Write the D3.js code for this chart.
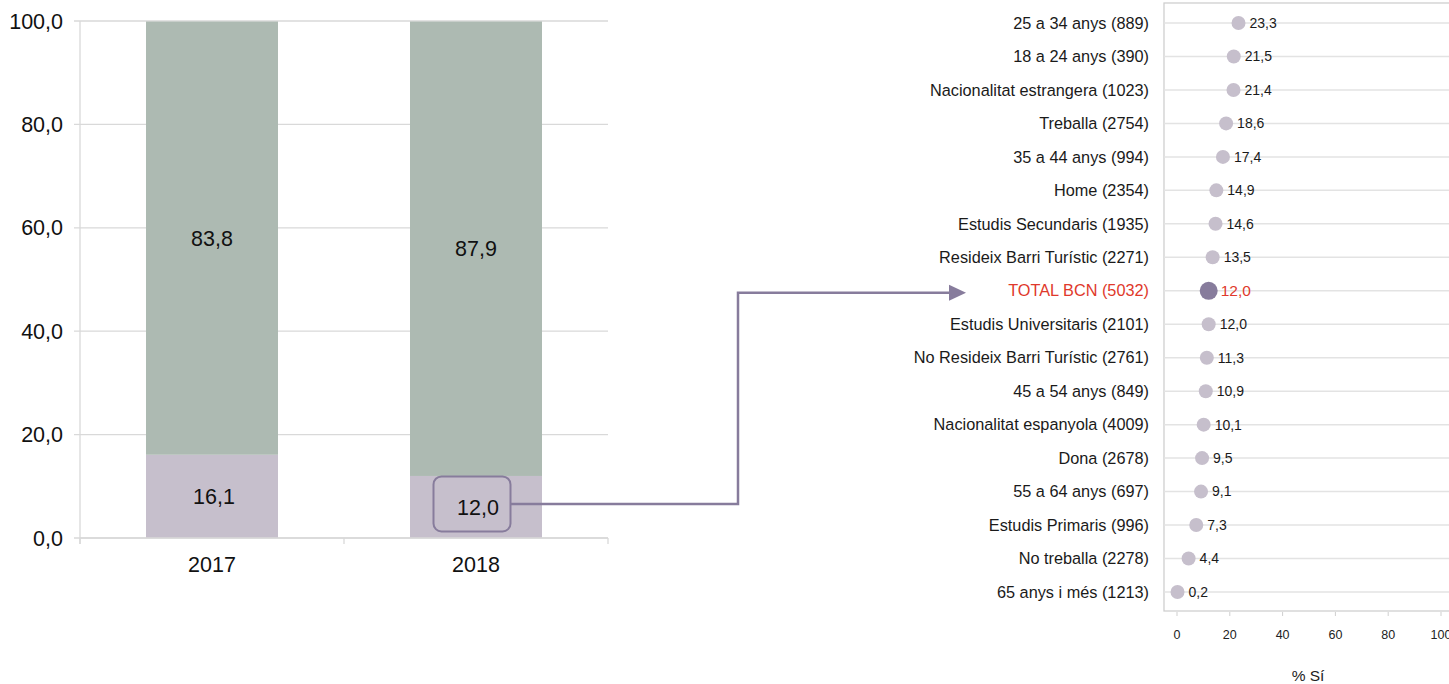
<!DOCTYPE html>
<html>
<head>
<meta charset="utf-8">
<script src="https://cdn.jsdelivr.net/npm/d3@7"></script>
<style>
  body { margin: 0; background: #fff; }
  svg { display: block; font-family: "Liberation Sans", Arial, sans-serif; }
</style>
</head>
<body>
<svg id="chart" width="1449" height="684"></svg>
<script>
// data - left stacked bars
const years = ["2017", "2018"];
const siValues = [16.1, 12.0];
const noValues = [83.8, 87.9];
const yTicks = [0, 20, 40, 60, 80, 100];

// data - right dot plot
const groups = [
  "25 a 34 anys (889)", "18 a 24 anys (390)", "Nacionalitat estrangera (1023)",
  "Treballa (2754)", "35 a 44 anys (994)", "Home (2354)", "Estudis Secundaris (1935)",
  "Resideix Barri Turístic (2271)", "TOTAL BCN (5032)", "Estudis Universitaris (2101)",
  "No Resideix Barri Turístic (2761)", "45 a 54 anys (849)", "Nacionalitat espanyola (4009)",
  "Dona (2678)", "55 a 64 anys (697)", "Estudis Primaris (996)", "No treballa (2278)",
  "65 anys i més (1213)"
];
const groupValues = [23.3, 21.5, 21.4, 18.6, 17.4, 14.9, 14.6, 13.5, 12.0, 12.0,
  11.3, 10.9, 10.1, 9.5, 9.1, 7.3, 4.4, 0.2];
const xTicks = [0, 20, 40, 60, 80, 100];
const totalLabel = "TOTAL BCN (5032)";

const fmt = function (v) { return d3.format(".1f")(v).replace(".", ","); };
const svg = d3.select("#chart");

const green = "#adbab2", lilac = "#c6bfcc", purple = "#877c9c", grid = "#d9d9d9";

// ---- left chart
const x = d3.scaleBand().domain(years).range([80, 608]).paddingInner(0.5).paddingOuter(0.25);
const y = d3.scaleLinear().domain([0, 100]).range([538, 21]);

const left = svg.append("g");

left.selectAll(".grid").data(yTicks).enter().append("line")
  .attr("x1", 74).attr("x2", 608)
  .attr("y1", function (d) { return y(d); }).attr("y2", function (d) { return y(d); })
  .attr("stroke", grid).attr("stroke-width", 1.3);

left.selectAll(".ylab").data(yTicks).enter().append("text")
  .attr("x", 63).attr("y", function (d) { return y(d); })
  .attr("dy", "0.35em").attr("text-anchor", "end")
  .attr("font-size", 21.5).attr("fill", "#111")
  .text(fmt);

// bars
left.selectAll(".si").data(years).enter().append("rect")
  .attr("x", function (d) { return x(d); })
  .attr("width", x.bandwidth())
  .attr("y", function (d, i) { return y(siValues[i]); })
  .attr("height", function (d, i) { return y(0) - y(siValues[i]); })
  .attr("fill", lilac);

left.selectAll(".no").data(years).enter().append("rect")
  .attr("x", function (d) { return x(d); })
  .attr("width", x.bandwidth())
  .attr("y", function (d, i) { return y(siValues[i] + noValues[i]); })
  .attr("height", function (d, i) { return y(siValues[i]) - y(siValues[i] + noValues[i]); })
  .attr("fill", green);

// axes lines
left.append("line").attr("x1", 80).attr("x2", 80).attr("y1", y(100)).attr("y2", y(0) + 6)
  .attr("stroke", grid).attr("stroke-width", 1.3);
left.append("line").attr("x1", 80).attr("x2", 608).attr("y1", y(0)).attr("y2", y(0))
  .attr("stroke", grid).attr("stroke-width", 1.5);
const bounds = [x.range()[0], x("2018") - x.step() * x.paddingInner() / 2, x.range()[1]];
left.selectAll(".xt").data(bounds).enter().append("line")
  .attr("x1", function (d) { return d; }).attr("x2", function (d) { return d; })
  .attr("y1", y(0)).attr("y2", y(0) + 6)
  .attr("stroke", grid).attr("stroke-width", 1.3);

left.selectAll(".xlab").data(years).enter().append("text")
  .attr("x", function (d) { return x(d) + x.bandwidth() / 2; })
  .attr("y", 564).attr("dy", "0.35em").attr("text-anchor", "middle")
  .attr("font-size", 21.5).attr("fill", "#111").text(function (d) { return d; });

// bar value labels
left.selectAll(".nolab").data(years).enter().append("text")
  .attr("x", function (d) { return x(d) + x.bandwidth() / 2; })
  .attr("y", function (d, i) { return y(siValues[i] + noValues[i] / 2); })
  .attr("dy", "0.35em").attr("text-anchor", "middle")
  .attr("font-size", 21.5).attr("fill", "#111")
  .text(function (d, i) { return fmt(noValues[i]); });

left.selectAll(".silab").data(years).enter().append("text")
  .attr("x", function (d) { return x(d) + x.bandwidth() / 2 + 2; })
  .attr("y", function (d, i) { return y(siValues[i] / 2); })
  .attr("dy", "0.35em").attr("text-anchor", "middle")
  .attr("font-size", 21.5).attr("fill", "#111")
  .text(function (d, i) { return fmt(siValues[i]); });

// ---- right chart
const rx = d3.scaleLinear().domain([0, 100]).range([1177, 1441]);
const ry = d3.scalePoint().domain(groups).range([23, 592]);

const right = svg.append("g");

right.append("rect").attr("x", 1164).attr("y", 3).attr("width", 300).attr("height", 608)
  .attr("fill", "none").attr("stroke", "#cfcfcf").attr("stroke-width", 1.3);

right.selectAll(".rg").data(groups).enter().append("line")
  .attr("x1", 1164).attr("x2", 1449)
  .attr("y1", function (d) { return ry(d); }).attr("y2", function (d) { return ry(d); })
  .attr("stroke", "#e3e3e3").attr("stroke-width", 1.5);

right.selectAll(".rt").data(xTicks).enter().append("line")
  .attr("x1", function (d) { return rx(d); }).attr("x2", function (d) { return rx(d); })
  .attr("y1", 612).attr("y2", 616).attr("stroke", "#cfcfcf");

right.selectAll(".rtl").data(xTicks).enter().append("text")
  .attr("x", function (d) { return rx(d); }).attr("y", 635).attr("dy", "0.35em")
  .attr("text-anchor", "middle").attr("font-size", 12.5).attr("fill", "#222")
  .text(function (d) { return d; });

right.append("text").attr("x", 1308).attr("y", 676).attr("dy", "0.35em")
  .attr("text-anchor", "middle").attr("font-size", 15.5).attr("fill", "#222").text("% Sí");

right.selectAll(".cat").data(groups).enter().append("text")
  .attr("x", 1149).attr("y", function (d) { return ry(d); }).attr("dy", "0.35em")
  .attr("text-anchor", "end").attr("font-size", 16.3)
  .attr("fill", function (d) { return d === totalLabel ? "#e0392b" : "#1a1a1a"; })
  .text(function (d) { return d; });

right.selectAll(".dot").data(groups).enter().append("circle")
  .attr("cx", function (d, i) { return rx(groupValues[i]); })
  .attr("cy", function (d) { return ry(d); })
  .attr("r", function (d) { return d === totalLabel ? 9 : 7; })
  .attr("fill", function (d) { return d === totalLabel ? purple : lilac; });

right.selectAll(".val").data(groups).enter().append("text")
  .attr("x", function (d, i) { return rx(groupValues[i]) + (d === totalLabel ? 12 : 11); })
  .attr("y", function (d) { return ry(d); }).attr("dy", "0.35em")
  .attr("font-size", function (d) { return d === totalLabel ? 15.5 : 14; })
  .attr("fill", function (d) { return d === totalLabel ? "#e0392b" : "#1a1a1a"; })
  .text(function (d, i) { return fmt(groupValues[i]); });

// ---- callout connecting the 2018 "Sí" value with TOTAL BCN
const cx = x("2018") + x.bandwidth() / 2 - 4;
const cy = y(siValues[1] / 2) - 3;
const boxW = 77, boxH = 55;
const arrowY = ry(totalLabel) + 2;
const turnX = 738;
const g = svg.append("g");
g.append("rect").attr("x", cx - boxW / 2).attr("y", cy - boxH / 2)
  .attr("width", boxW).attr("height", boxH).attr("rx", 8)
  .attr("fill", "none").attr("stroke", purple).attr("stroke-width", 2);
g.append("path")
  .attr("d", "M" + (cx + boxW / 2) + "," + cy + "H" + turnX + "V" + arrowY + "H951")
  .attr("fill", "none").attr("stroke", purple).attr("stroke-width", 2.5);
g.append("path")
  .attr("d", "M949," + (arrowY - 8) + "L966," + arrowY + "L949," + (arrowY + 8) + "Z")
  .attr("fill", purple);
</script>
</body>
</html>
